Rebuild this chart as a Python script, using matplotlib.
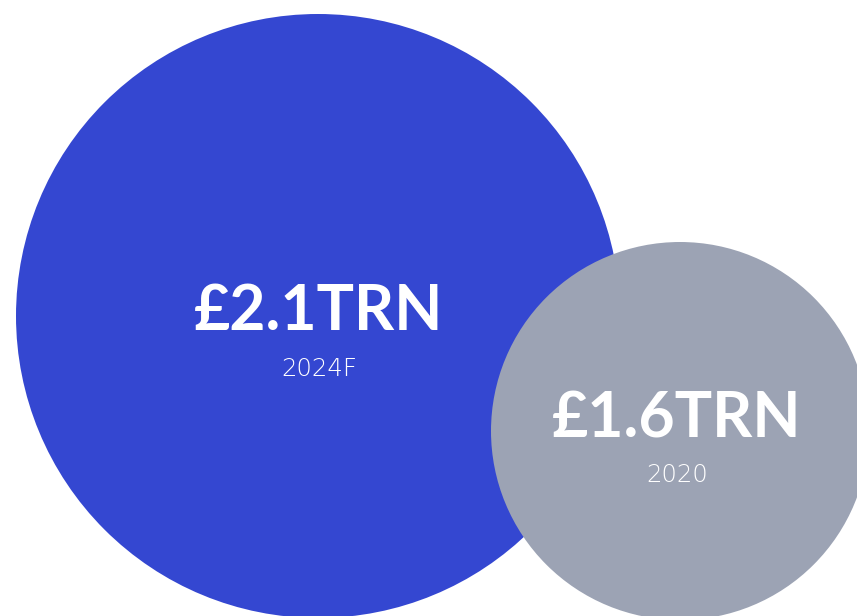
import matplotlib
matplotlib.use("Agg")
import matplotlib.pyplot as plt
from matplotlib.patches import Circle

# ── Data ──────────────────────────────────────────────────────────────────────
years  = ["2024F", "2020"]
values = [2.1, 1.6]          # £ trillion

# ── Layout (pixel space) ──────────────────────────────────────────────────────
centers  = [(318, 316), (680, 431)]
radii    = [302, 189]
colors   = ["#3447D1", "#9CA3B4"]
label_x  = [319, 677]
value_y  = [330, 438]        # baselines
year_y   = [376, 482]

W, H = 857, 616
fig = plt.figure(figsize=(W / 100, H / 100), dpi=100, facecolor="white")
ax = fig.add_axes([0, 0, 1, 1])
ax.set_xlim(0, W)
ax.set_ylim(H, 0)
ax.set_aspect("equal")
ax.axis("off")

for i, (yr, v) in enumerate(zip(years, values)):
    ax.add_patch(Circle(centers[i], radii[i], facecolor=colors[i], edgecolor="none"))
    ax.text(label_x[i], value_y[i], f"£{v:.1f}TRN", color="white", fontsize=45,
            fontweight="bold", family="Lato", ha="center", va="baseline")
    ax.text(label_x[i], year_y[i], yr, color="white", fontsize=17.5,
            fontweight="light", family="DejaVu Sans", ha="center", va="baseline")

fig.savefig("out.png", dpi=100, facecolor="white")
